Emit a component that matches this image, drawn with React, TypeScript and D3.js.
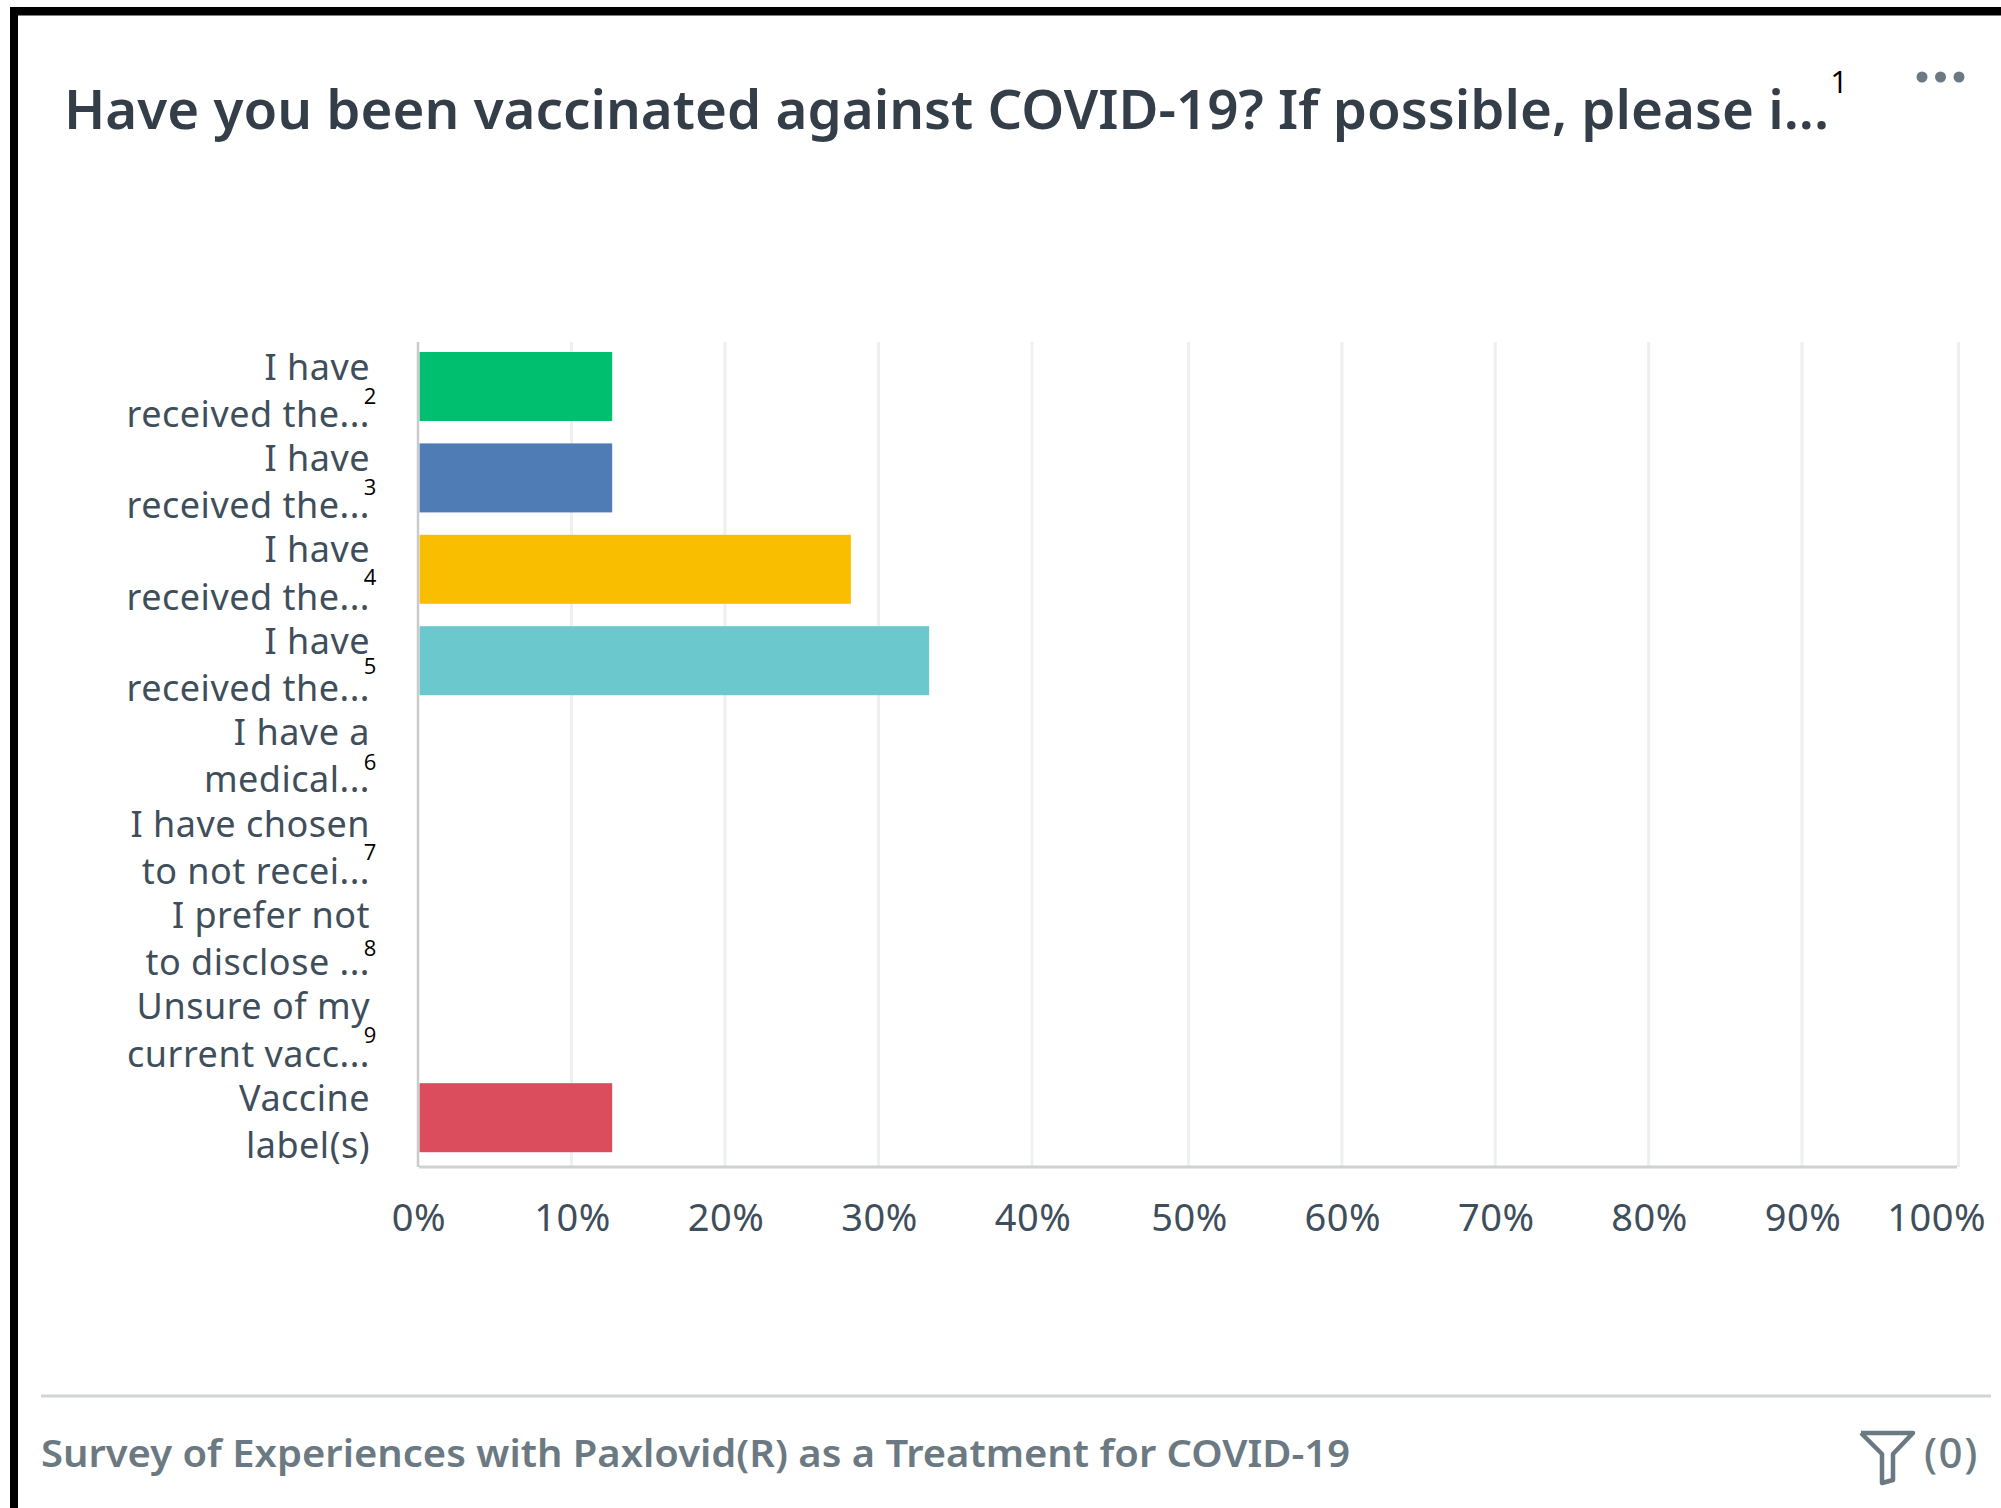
import React from "react";
import * as d3 from "d3";

const categories = ["A", "B", "C", "D", "E", "F", "G", "H", "I"];
const labelFirstLines = ["I have", "I have", "I have", "I have", "I have a", "I have chosen", "I prefer not", "Unsure of my", "Vaccine"];
const labelSecondLines = ["received the...", "received the...", "received the...", "received the...", "medical...", "to not recei...", "to disclose ...", "current vacc...", "label(s)"];
const values = [12.65, 12.65, 28.2, 33.3, 0, 0, 0, 0, 12.65];
const barColors = ["#00BF6F", "#507CB6", "#F9BE00", "#6BC8CD", "#DB4D5C", "#DB4D5C", "#DB4D5C", "#DB4D5C", "#DB4D5C"];
const tickValues = [0, 10, 20, 30, 40, 50, 60, 70, 80, 90, 100];
const markers = ["2", "3", "4", "5", "6", "7", "8", "9"];
const markerOffsets = [17.4, 17, 15.6, 13.2, 17.8, 16.4, 21, 16.6];
const titleText = "Have you been vaccinated against COVID-19? If possible, please i...";
const footerText = "Survey of Experiences with Paxlovid(R) as a Treatment for COVID-19";

const W = 2001;
const H = 1508;
const FONT = "'Noto Sans', sans-serif";
const INK = "#3f4e5b";
const GREY = "#6b7a82";

export default function App() {
  // the picture's gridlines are very slightly uneven, so the scale is piecewise
  const x = d3.scaleLinear().domain([0, 40, 50, 90, 100]).range([418, 1032, 1188.5, 1802, 1958.5]);
  const y = d3.scaleBand<string>().domain(categories).range([340.8, 1163.4]).paddingInner(0.245).paddingOuter(0.1225);
  const axisY = 1167;
  const barLeft = x(0) + 1.5;

  return (
    <svg width={W} height={H} viewBox={`0 0 ${W} ${H}`} style={{ position: "absolute", left: 0, top: 0, background: "#fff", fontFamily: FONT }}>
      <rect x={0} y={0} width={W} height={H} fill="#fff" />
      {/* frame */}
      <rect x={10} y={7} width={W - 10} height={8.5} fill="#000" />
      <rect x={10} y={7} width={8} height={H - 7} fill="#000" />

      {/* title */}
      <text x={64} y={129} fontSize={54} fontWeight={600} fill="#333E48" textLength={1765} lengthAdjust="spacingAndGlyphs">{titleText}</text>
      <text x={1839} y={93} fontSize={31} fill="#000" textAnchor="middle" style={{ fontFamily: "'Open Sans'" }}>1</text>
      {[0, 1, 2].map((i) => (
        <circle key={i} cx={1922 + i * 18.5} cy={77} r={5.5} fill={GREY} />
      ))}

      {/* gridlines */}
      {tickValues.slice(1).map((t) => (
        <line key={t} x1={x(t)} x2={x(t)} y1={342} y2={axisY} stroke="#eeeff0" strokeWidth={3} />
      ))}

      {/* bars */}
      {categories.map((c, i) =>
        values[i] > 0 ? (
          <rect key={c} x={barLeft} y={y(c)} width={x(values[i]) - barLeft} height={y.bandwidth()} fill={barColors[i]} />
        ) : null
      )}

      {/* axes */}
      <line x1={x(0)} x2={x(0)} y1={342} y2={axisY} stroke="#c9cbcc" strokeWidth={2.5} />
      <line x1={x(0) + 1} x2={x(100) - 1.5} y1={axisY} y2={axisY} stroke="#cfd1d2" strokeWidth={3} />

      {/* x tick labels */}
      {tickValues.map((t) => (
        <text
          key={t}
          x={t === 100 ? 1986 : x(t) + 1}
          y={1230.5}
          fontSize={38}
          letterSpacing={0.5}
          fill={INK}
          textAnchor={t === 100 ? "end" : "middle"}
        >
          {`${t}%`}
        </text>
      ))}

      {/* category labels */}
      {categories.map((c, i) => {
        const cy = (y(c) as number) + y.bandwidth() / 2;
        return (
          <g key={c} fontSize={36} fill={INK} textAnchor="end" letterSpacing={0.5}>
            <text x={370} y={cy - 7}>{labelFirstLines[i]}</text>
            <text x={370} y={cy + 40.3}>{labelSecondLines[i]}</text>
          </g>
        );
      })}

      {/* footnote markers */}
      {markers.map((m, i) => (
        <text
          key={m}
          x={370}
          y={(y(categories[i]) as number) + y.bandwidth() / 2 + markerOffsets[i]}
          fontSize={22}
          fill="#000"
          textAnchor="middle"
          style={{ fontFamily: "'Open Sans'" }}
        >
          {m}
        </text>
      ))}

      {/* footer */}
      <line x1={41} x2={1991} y1={1396} y2={1396} stroke="#d2d4d5" strokeWidth={3} />
      <text x={41} y={1467} fontSize={37} fontWeight={600} fill={GREY} textLength={1309} lengthAdjust="spacingAndGlyphs">{footerText}</text>
      <path
        d={d3.line()([[1861, 1433], [1913, 1433], [1893, 1454], [1893, 1480], [1882, 1483], [1882, 1454], [1861, 1433]]) as string}
        fill="none"
        stroke={GREY}
        strokeWidth={4.5}
        strokeLinejoin="round"
      />
      <text x={1924} y={1468} fontSize={42} fontWeight={500} letterSpacing={1.5} fill={GREY}>(0)</text>
    </svg>
  );
}
